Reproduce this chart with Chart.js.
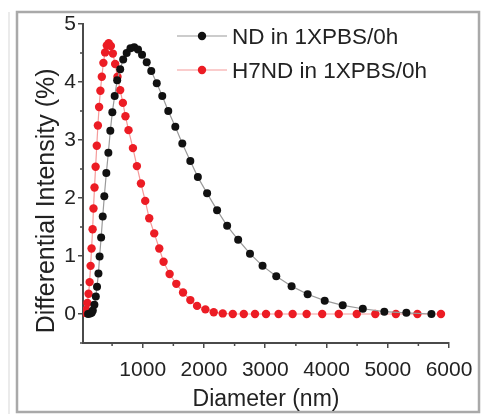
<!DOCTYPE html>
<html>
<head>
<meta charset="utf-8">
<script src="https://cdn.jsdelivr.net/npm/chart.js@4"></script>
<style>
  html, body { margin: 0; padding: 0; background: #fff; }
  #wrap { width: 484px; height: 414px; }
</style>
</head>
<body>
<div id="wrap"><canvas id="dlsChart" width="484" height="414"></canvas></div>
<script>
// Tamaño de partícula (nm) e intensidad diferencial (%) de cada muestra
const ndDiameter = [108, 141, 167, 185, 211, 234, 254, 277, 296, 321, 347, 373, 406, 439, 471, 504, 542, 583, 632, 681,
  738, 800, 861, 923, 989, 1065, 1139, 1229, 1319, 1417, 1532, 1646, 1777, 1900, 2051, 2214, 2378, 2558, 2751, 2956,
  3180, 3430, 3692, 3971, 4265, 4593, 4944, 5304, 5713];
const ndIntensity = [0, 0.01, 0.02, 0.06, 0.16, 0.30, 0.47, 0.70, 0.99, 1.32, 1.68, 2.03, 2.43, 2.78, 3.16, 3.48, 3.76, 4.03, 4.22, 4.39,
  4.50, 4.58, 4.60, 4.56, 4.47, 4.34, 4.19, 3.98, 3.76, 3.50, 3.23, 2.94, 2.64, 2.36, 2.08, 1.79, 1.52, 1.28, 1.04, 0.83,
  0.65, 0.48, 0.34, 0.23, 0.15, 0.09, 0.04, 0.02, 0.0];

const h7Diameter = [59, 75, 97, 116, 133, 149, 165, 182, 196, 213, 231, 250, 268, 288, 309, 332, 358, 386, 414, 444,
  480, 512, 550, 588, 632, 676, 718, 768, 840, 905, 971, 1041, 1106, 1188, 1270, 1340, 1439, 1548, 1658, 1777,
  1887, 2023, 2159, 2306, 2470, 2650, 2833, 3013, 3218, 3447, 3676, 3930, 4200, 4494, 4797, 5133, 5484, 5869];
const h7Intensity = [0.02, 0.07, 0.19, 0.35, 0.55, 0.83, 1.13, 1.46, 1.82, 2.18, 2.54, 2.90, 3.25, 3.57, 3.85, 4.09, 4.33, 4.51, 4.63, 4.67,
  4.62, 4.49, 4.31, 4.09, 3.86, 3.64, 3.41, 3.17, 2.86, 2.55, 2.25, 1.95, 1.65, 1.39, 1.13, 0.90, 0.69, 0.52, 0.37, 0.24,
  0.14, 0.08, 0.03, 0.01, 0, 0, 0, 0, 0, 0, 0, 0, 0, 0, 0, 0, 0, 0];

const seriesLabels = ['ND in 1XPBS/0h', 'H7ND in 1XPBS/0h'];

// Marcas de los ejes
const xTicks = [1000, 2000, 3000, 4000, 5000, 6000];
const xMinorTicks = [500, 1500, 2500, 3500, 4500, 5500];
const yTicks = [0, 1, 2, 3, 4, 5];
const yMinorTicks = [-0.5, 0.5, 1.5, 2.5, 3.5, 4.5];

const FONT = "'Liberation Sans', Arial, sans-serif";
const AXIS_COLOR = '#4a4a4a';

function toPoints(xs, ys) {
  return xs.map((x, i) => ({ x: x, y: ys[i] }));
}

// Marco gris alrededor de la figura
const framePlugin = {
  id: 'frame',
  beforeDraw(chart) {
    const c = chart.ctx;
    c.save();
    c.fillStyle = '#fff';
    c.fillRect(0, 0, chart.width, chart.height);
    c.strokeStyle = '#e4e4e4';
    c.lineWidth = 1.5;
    c.beginPath();
    c.moveTo(9, 12); c.lineTo(9, 414);
    c.stroke();
    c.strokeStyle = '#a9a9a9';
    c.lineWidth = 2.5;
    c.strokeRect(17, 12, 462, 400);
    c.restore();
  }
};

// Marcas menores en ambos ejes
const minorTicksPlugin = {
  id: 'minorTicks',
  afterDraw(chart) {
    const c = chart.ctx;
    const xs = chart.scales.x, ys = chart.scales.y;
    c.save();
    c.strokeStyle = AXIS_COLOR;
    c.lineWidth = 1.5;
    c.beginPath();
    xMinorTicks.forEach(v => {
      const px = xs.getPixelForValue(v);
      c.moveTo(px, xs.top); c.lineTo(px, xs.top + 3);
    });
    yMinorTicks.forEach(v => {
      const py = ys.getPixelForValue(v);
      c.moveTo(ys.right, py); c.lineTo(ys.right - 3, py);
    });
    c.stroke();
    c.restore();
  }
};

// Leyenda con línea y punto, arriba a la derecha
const legendPlugin = {
  id: 'lineDotLegend',
  afterDraw(chart) {
    const c = chart.ctx;
    const rows = [36, 70];
    c.save();
    chart.data.datasets.forEach((ds, i) => {
      const y = rows[i];
      c.strokeStyle = ds.borderColor;
      c.lineWidth = 1.2;
      c.beginPath();
      c.moveTo(177, y); c.lineTo(227, y);
      c.stroke();
      c.fillStyle = ds.pointBackgroundColor;
      c.beginPath();
      c.arc(202, y, 4.2, 0, Math.PI * 2);
      c.fill();
      c.fillStyle = '#222';
      c.font = '22.5px ' + FONT;
      c.textBaseline = 'middle';
      c.fillText(ds.label, 232, y + 2);
    });
    c.restore();
  }
};

const ctx = document.getElementById('dlsChart').getContext('2d');
const chart = new Chart(ctx, {
  type: 'scatter',
  data: {
    datasets: [{
      label: seriesLabels[0],
      data: toPoints(ndDiameter, ndIntensity),
      showLine: true,
      borderColor: '#9a9a9a',
      borderWidth: 1.2,
      pointBackgroundColor: '#111',
      pointBorderColor: '#111',
      pointRadius: 4,
      pointBorderWidth: 0
    }, {
      label: seriesLabels[1],
      data: toPoints(h7Diameter, h7Intensity),
      showLine: true,
      borderColor: '#f59a9a',
      borderWidth: 1.2,
      pointBackgroundColor: '#ec1c24',
      pointBorderColor: '#ec1c24',
      pointRadius: 4.2,
      pointBorderWidth: 0
    }]
  },
  options: {
    responsive: false,
    animation: false,
    devicePixelRatio: 1,
    layout: { padding: { left: 0, top: 24, right: 35, bottom: 0 } },
    plugins: {
      legend: { display: false },
      tooltip: { enabled: false }
    },
    scales: {
      x: {
        type: 'linear',
        min: 25,
        max: 6000,
        afterBuildTicks: s => { s.ticks = xTicks.map(v => ({ value: v })); },
        afterFit: s => { s.height = 71; },
        grid: { drawOnChartArea: false, drawTicks: true, tickLength: 5, color: AXIS_COLOR, lineWidth: 1.5 },
        border: { display: true, color: AXIS_COLOR, width: 2 },
        ticks: { color: '#222', font: { family: FONT, size: 21 }, padding: 10, maxRotation: 0, autoSkip: false,
                 callback: v => String(v) },
        title: { display: true, text: 'Diameter (nm)', color: '#222', font: { family: FONT, size: 23 }, padding: { top: 0, bottom: 1 } }
      },
      y: {
        type: 'linear',
        min: -0.5,
        max: 5,
        afterBuildTicks: s => { s.ticks = yTicks.map(v => ({ value: v })); },
        afterFit: s => { s.width = 83; },
        grid: { drawOnChartArea: false, drawTicks: true, tickLength: 5, color: AXIS_COLOR, lineWidth: 1.5 },
        border: { display: true, color: AXIS_COLOR, width: 2 },
        ticks: { color: '#222', font: { family: FONT, size: 21 }, padding: 2, callback: v => String(v) },
        title: { display: true, text: 'Differential Intensity (%)     ', color: '#222', font: { family: FONT, size: 25 }, padding: { top: 32, bottom: 0 } }
      }
    }
  },
  plugins: [framePlugin, minorTicksPlugin, legendPlugin]
});
</script>
</body>
</html>
